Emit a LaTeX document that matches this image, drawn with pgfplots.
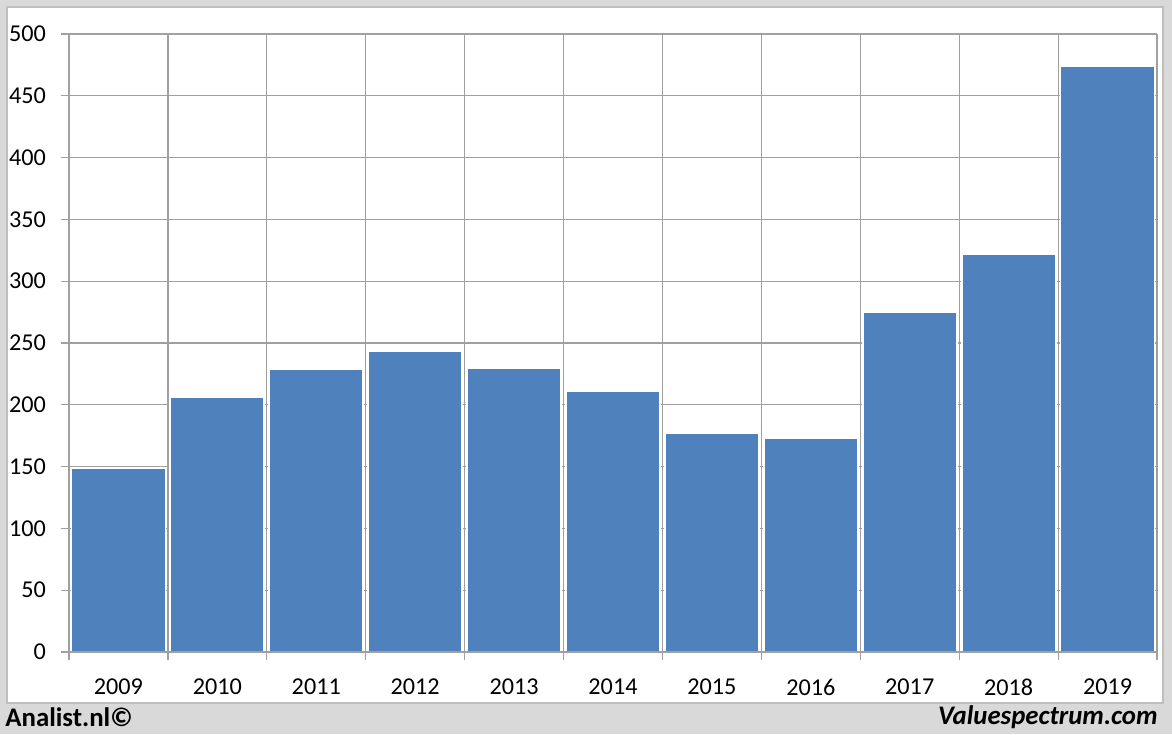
\documentclass[border=0pt]{standalone}
\usepackage{fontspec}
\setmainfont{Carlito}
\usepackage{pgfplots}
\pgfplotsset{compat=1.18}
\definecolor{barblue}{HTML}{4F81BD}
\definecolor{framegrey}{HTML}{D9D9D9}
\definecolor{panelline}{HTML}{BFBFBF}
\definecolor{gridgrey}{HTML}{A0A0A0}

\begin{document}
\begin{tikzpicture}[x=1pt,y=1pt]
% 1 px of the reference = 0.5pt
\fill[framegrey] (0,0) rectangle (586,367);
\useasboundingbox (0,0) rectangle (586,367);
\filldraw[fill=white, draw=panelline, line width=0.8pt] (3.5,15.5) rectangle (581.5,363.5);
\node[anchor=west, font=\fontsize{13.4}{15}\selectfont\bfseries, inner sep=0pt] at (2.5,8.5) {Analist.nl©};
\node[anchor=east, font=\fontsize{13.4}{15}\selectfont\bfseries\itshape, inner sep=0pt] at (579,8.5) {Valuespectrum.com};
\begin{axis}[
  at={(34.5pt,41pt)}, anchor=south west,
  scale only axis,
  width=544pt, height=309pt,
  xmin=-0.5, xmax=10.5,
  ymin=0, ymax=500,
  ytick={0,50,...,500},
  xtick={0,...,10},
  xticklabels={2009,2010,2011,2012,2013,2014,2015,2016,2017,2018,2019},
  minor xtick={-0.5,0.5,...,10.5},
  xtick pos=bottom, ytick pos=left,
  major x tick style={draw=none},
  xminorgrids=true, ymajorgrids=true,
  grid style={draw=gridgrey, line width=0.6pt},
  minor grid style={draw=gridgrey, line width=0.6pt},
  axis line style={draw=none},
  tick align=outside,
  tick style={draw=gridgrey, line width=0.6pt},
  major tick length=4pt, minor tick length=4pt,
  ticklabel style={font=\fontsize{12.1}{14}\selectfont, text=black},
  /pgf/number format/assume math mode=true,
  yticklabel style={xshift=-4pt},
  xticklabel style={yshift=-6pt},
  ybar, bar width=47pt,
]
\addplot[fill=barblue, draw=white, line width=0.9pt] coordinates {
  (0,149) (1,206) (2,229) (3,243.5) (4,229.5)
  (5,211) (6,177) (7,173) (8,275) (9,322) (10,474)
};
\draw[gridgrey, line width=0.6pt] (axis cs:-0.5,0) -- (axis cs:10.5,0);
\end{axis}
\end{tikzpicture}
\end{document}
